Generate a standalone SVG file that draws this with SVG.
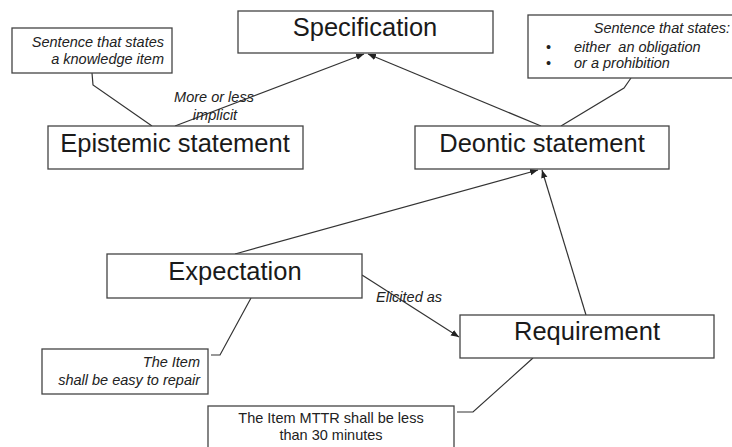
<svg xmlns="http://www.w3.org/2000/svg" width="732" height="447" viewBox="0 0 732 447">
<style>
.box{fill:#fff;stroke:#444;stroke-width:1.3}
.big{font-family:"Liberation Sans",Arial,sans-serif;font-size:25.5px;fill:#1a1a1a;text-anchor:middle}
.sm{font-family:"Liberation Sans",Arial,sans-serif;font-size:14.5px;fill:#222}
.it{font-style:italic}
.ln{fill:none;stroke:#333;stroke-width:1.2}
</style>
<defs>
<marker id="ah" viewBox="0 0 10 10" refX="10" refY="5" markerWidth="8" markerHeight="8" orient="auto" markerUnits="userSpaceOnUse">
<path d="M0,1 L10,5 L0,9 z" fill="#222"/>
</marker>
</defs>
<rect width="732" height="447" fill="#fff"/>
<g id="connectors">
<line class="ln" x1="175" y1="126" x2="364" y2="54" marker-end="url(#ah)"/>
<line class="ln" x1="541" y1="126" x2="368" y2="54" marker-end="url(#ah)"/>
<line class="ln" x1="235" y1="254" x2="538" y2="170" marker-end="url(#ah)"/>
<line class="ln" x1="586" y1="315" x2="542" y2="170" marker-end="url(#ah)"/>
<line class="ln" x1="362" y1="275" x2="459" y2="337" marker-end="url(#ah)"/>
<polyline class="ln" points="92,73 93,85 152,126"/>
<polyline class="ln" points="631,78 624,88 561,126"/>
<polyline class="ln" points="251,298 220,355 211,355"/>
<polyline class="ln" points="533,358 473,412 457,412"/>
<text class="sm it" x="214" y="102" text-anchor="middle">More or less</text>
<text class="sm it" x="215" y="120" text-anchor="middle">implicit</text>
<text class="sm it" x="376" y="302">Elicited as</text>
</g>
<g id="specification">
<rect class="box" x="238" y="11" width="255" height="42"/>
<text class="big" x="365" y="36">Specification</text>
</g>
<g id="epistemic">
<rect class="box" x="48" y="126" width="255" height="43"/>
<text class="big" x="175" y="152">Epistemic statement</text>
</g>
<g id="deontic">
<rect class="box" x="415" y="126" width="254" height="43"/>
<text class="big" x="542" y="152">Deontic statement</text>
</g>
<g id="expectation">
<rect class="box" x="107" y="254" width="255" height="44"/>
<text class="big" x="235" y="280">Expectation</text>
</g>
<g id="requirement">
<rect class="box" x="460" y="315" width="254" height="43"/>
<text class="big" x="587" y="340">Requirement</text>
</g>
<g id="note-epistemic">
<rect class="box" x="12" y="28" width="160" height="45"/>
<text class="sm it" x="164" y="47" text-anchor="end">Sentence that states</text>
<text class="sm it" x="164" y="64" text-anchor="end">a knowledge item</text>
</g>
<g id="note-deontic">
<rect class="box" x="528" y="15" width="212" height="63"/>
<text class="sm it" x="730" y="33" text-anchor="end">Sentence that states:</text>
<text class="sm" x="546" y="52">•</text>
<text class="sm it" x="574" y="52" style="white-space:pre">either  an obligation</text>
<text class="sm" x="546" y="68">•</text>
<text class="sm it" x="574" y="68">or a prohibition</text>
</g>
<g id="note-expectation">
<rect class="box" x="42" y="349" width="166" height="45"/>
<text class="sm it" x="200" y="367" text-anchor="end">The Item</text>
<text class="sm it" x="200" y="385" text-anchor="end">shall be easy to repair</text>
</g>
<g id="note-requirement">
<rect class="box" x="208" y="406" width="246" height="50"/>
<text class="sm" x="331" y="423" text-anchor="middle">The Item MTTR shall be less</text>
<text class="sm" x="331" y="440" text-anchor="middle">than 30 minutes</text>
</g>
</svg>
